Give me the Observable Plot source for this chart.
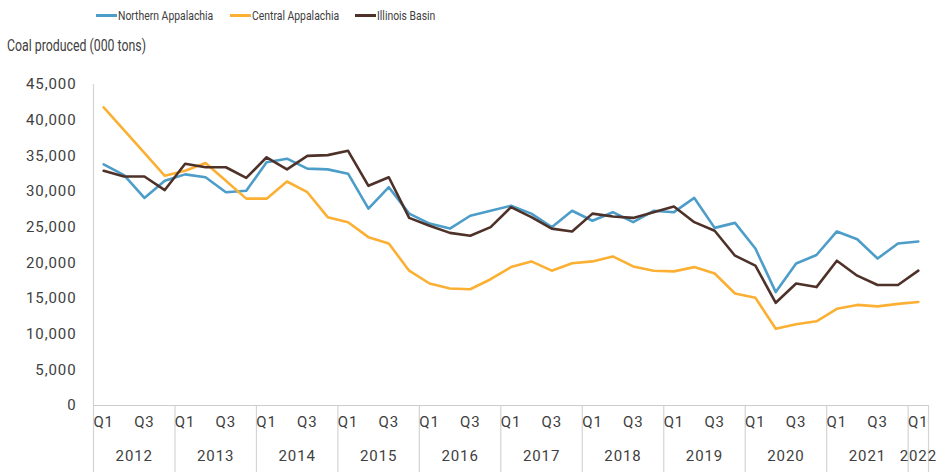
<!DOCTYPE html>
<html>
<head>
<meta charset="utf-8">
<script src="https://cdn.jsdelivr.net/npm/d3@7"></script>
<script src="https://cdn.jsdelivr.net/npm/@observablehq/plot@0.6"></script>
<style>
  body { margin: 0; background: #fff; width: 938px; height: 472px; overflow: hidden; color: #404040; font-family: Roboto, sans-serif; }
  #head { position: relative; height: 62px; }
  .lg { position: absolute; top: 7px; font-family: Roboto, sans-serif; font-size: 13.5px; line-height: 16px; color: #404040; white-space: nowrap; }
  .sw { display: inline-block; width: 21px; height: 3px; vertical-align: middle; margin-right: 1px; position: relative; top: -1px; }
  .lt { display: inline-block; transform: scaleX(0.77); transform-origin: left center; }
  #ylab { position: absolute; left: 7px; top: 36px; font-family: Roboto, sans-serif; font-size: 16px; color: #404040; white-space: nowrap; transform: scaleX(0.77); transform-origin: left center; }
  svg { display: block; }
</style>
</head>
<body>
<div id="head"></div>
<div id="chart"></div>
<script>
// ---- data ----
const years = [2012, 2013, 2014, 2015, 2016, 2017, 2018, 2019, 2020, 2021, 2022];
const quarterNames = ["Q1", "Q2", "Q3", "Q4"];
const shownQuarterTicks = ["Q1", "Q3"];
const seriesNames = ["Northern Appalachia", "Central Appalachia", "Illinois Basin"];
const seriesColors = ["#4d9dc9", "#fbb034", "#4e3229"];
const northernAppalachia = [33800, 32300, 29100, 31500, 32400, 32000, 29900, 30100, 34100, 34600, 33200, 33100, 32500, 27600, 30600, 26900, 25500, 24800, 26600, 27300, 28000, 26900, 25000, 27300, 25900, 27100, 25700, 27300, 27100, 29100, 24900, 25600, 22000, 15900, 19900, 21100, 24400, 23300, 20600, 22700, 23000];
const centralAppalachia = [41800, 38600, 35400, 32200, 32900, 34000, 31500, 29000, 29000, 31400, 29900, 26400, 25700, 23600, 22700, 18900, 17100, 16400, 16300, 17700, 19400, 20200, 18900, 19950, 20200, 20900, 19500, 18900, 18800, 19400, 18500, 15700, 15100, 10750, 11400, 11800, 13550, 14100, 13900, 14250, 14500];
const illinoisBasin = [32900, 32100, 32100, 30200, 33900, 33400, 33400, 31900, 34800, 33100, 35000, 35100, 35700, 30800, 32000, 26300, 25200, 24200, 23800, 25000, 27800, 26400, 24800, 24400, 26900, 26500, 26300, 27100, 27900, 25700, 24500, 21000, 19600, 14400, 17100, 16600, 20300, 18200, 16900, 16900, 18900];
const yTicks = [0, 5000, 10000, 15000, 20000, 25000, 30000, 35000, 40000, 45000];
const yLabel = "Coal produced (000 tons)";

// ---- derived tables ----
const seriesValues = [northernAppalachia, centralAppalachia, illinoisBasin];
const nPoints = northernAppalachia.length;
const periods = [];
for (let i = 0; i < nPoints; i++) {
  periods.push({ i, year: years[Math.floor(i / 4)], q: quarterNames[i % 4] });
}
const data = [];
seriesNames.forEach((name, s) => seriesValues[s].forEach((v, i) => data.push({ i, region: name, value: v })));
const qTicks = periods.filter(p => shownQuarterTicks.includes(p.q));
const yearGroups = years.map(y => {
  const idx = periods.filter(p => p.year === y).map(p => p.i);
  return { year: String(y), start: d3.min(idx) - 0.5, end: d3.max(idx) + 0.5 };
});
const boundaries = [...new Set(yearGroups.flatMap(g => [g.start, g.end]))];

// ---- header (legend + axis title) ----
const head = document.getElementById("head");
const legendLeft = [96, 230, 355];
seriesNames.forEach((n, k) => {
  const d = document.createElement("div");
  d.className = "lg";
  d.style.left = legendLeft[k] + "px";
  d.innerHTML = `<span class="sw" style="background:${seriesColors[k]}"></span><span class="lt">${n}</span>`;
  head.appendChild(d);
});
const yl = document.createElement("div");
yl.id = "ylab";
yl.textContent = yLabel;
head.appendChild(yl);

// ---- chart ----
const H = 410, MT = 22, MB = 67;
const fmt = d3.format(",d");
const chart = Plot.plot({
  width: 938,
  height: H,
  marginTop: MT,
  marginBottom: MB,
  marginLeft: 93,
  marginRight: 10,
  style: { fontFamily: "Roboto, sans-serif", fontSize: "15px", color: "#404040", letterSpacing: "0.9px", background: "#fff" },
  x: { type: "linear", domain: [-0.5, nPoints - 0.5], axis: null },
  y: { domain: [0, 45000], ticks: yTicks, tickFormat: d => fmt(d), tickSize: 0, tickPadding: 17, label: null },
  color: { domain: seriesNames, range: seriesColors },
  marks: [
    Plot.ruleX(boundaries, { x: d => d, stroke: "#d4d4d4", strokeWidth: 1.2, insetTop: H - MT - MB, insetBottom: -MB }),
    Plot.ruleX([boundaries[0]], { stroke: "#d4d4d4", strokeWidth: 1.2 }),
    Plot.ruleY([0], { stroke: "#cccccc", strokeWidth: 1.2 }),
    Plot.line(data, { x: "i", y: "value", z: "region", stroke: "region", strokeWidth: 2.6, strokeLinejoin: "round" }),
    Plot.text(qTicks, { x: "i", text: "q", frameAnchor: "bottom", dy: 21 }),
    Plot.text(yearGroups, { x: d => (d.start + d.end) / 2, text: "year", frameAnchor: "bottom", dy: 55 })
  ]
});
document.getElementById("chart").appendChild(chart);
</script>
</body>
</html>
